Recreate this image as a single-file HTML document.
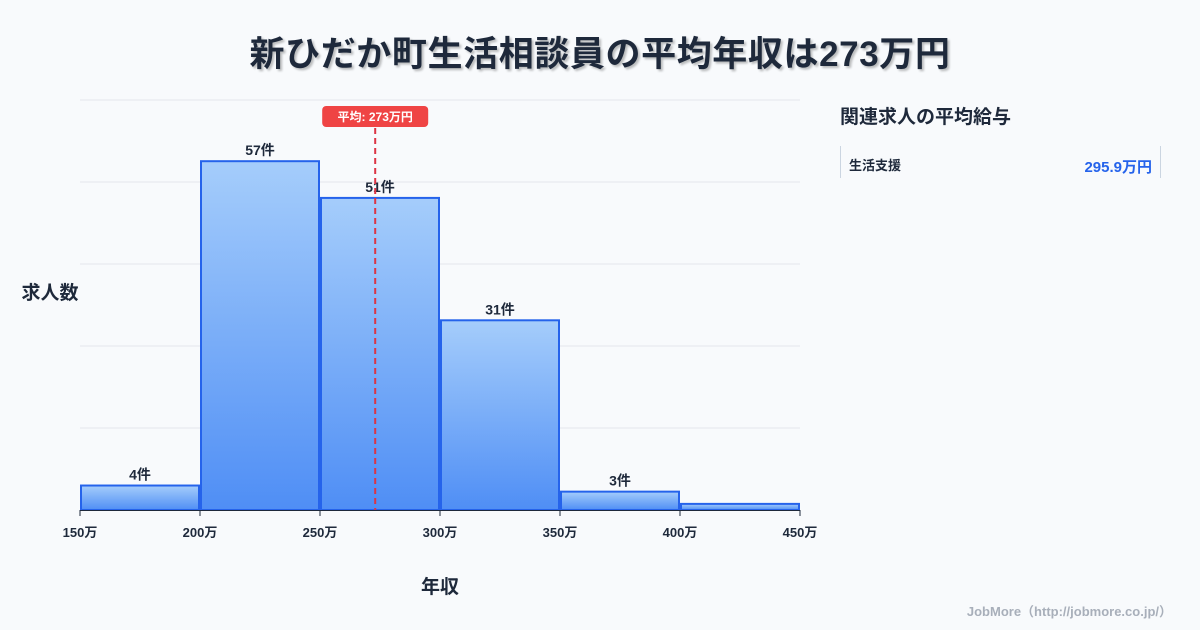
<!DOCTYPE html>
<html><head><meta charset="utf-8">
<style>
body{margin:0;background:#f8fafc;font-family:"Liberation Sans","Noto Sans CJK JP",sans-serif;}
#wrap{position:relative;width:1200px;height:630px;overflow:hidden;background:#f8fafc;}
</style></head>
<body>
<div id="wrap">
<svg id="chart" width="1200" height="630" xmlns="http://www.w3.org/2000/svg">
<defs>
<linearGradient id="g" x1="0" y1="0" x2="0" y2="1">
<stop offset="0" stop-color="#a5cdfb"/><stop offset="1" stop-color="#4f8ef5"/>
</linearGradient>
</defs>
<text x="600" y="66" text-anchor="middle" font-size="35" letter-spacing="0.6" font-weight="700" fill="#1e293b" style="text-shadow:2px 2px 2px rgba(0,0,0,0.25)">新ひだか町生活相談員の平均年収は273万円</text>
<g id="grid"></g>
<g id="bars"></g>
<g id="xaxis"></g>
<text x="50" y="299" text-anchor="middle" font-size="19" font-weight="700" fill="#1e293b">求人数</text>
<text x="440" y="593" text-anchor="middle" font-size="19" font-weight="700" fill="#1e293b">年収</text>
<g id="mean"></g>
<text x="840" y="123" font-size="19" font-weight="700" fill="#1e293b">関連求人の平均給与</text>
<line x1="840.5" y1="146" x2="840.5" y2="178" stroke="#cbd5e1"/>
<line x1="1160.5" y1="146" x2="1160.5" y2="178" stroke="#cbd5e1"/>
<text x="849" y="170" font-size="13" font-weight="700" fill="#1e293b">生活支援</text>
<text x="1152" y="172" text-anchor="end" font-size="15" font-weight="700" fill="#2563eb">295.9万円</text>
<text x="1172" y="616" text-anchor="end" font-size="13" font-weight="700" fill="#a8afba">JobMore（http://jobmore.co.jp/）</text>
</svg>
</div>
<script>
const binStarts=[150,200,250,300,350,400];
const counts=[4,57,51,31,3,1];
const showLabel=[true,true,true,true,true,false];
const xTicks=[150,200,250,300,350,400,450];
const meanValue=273;
const meanLabel=['平均: 273万円'];
const NS='http://www.w3.org/2000/svg';
const X0=80,X1=800,XMIN=150,XMAX=450,BASE=510,TOP=100,YMAX=67;
const binW=50;
function xs(v){return X0+(v-XMIN)/(XMAX-XMIN)*(X1-X0);}
function ys(v){return BASE-v/YMAX*(BASE-TOP);}
function mk(tag,attrs,parent){const e=document.createElementNS(NS,tag);for(const k in attrs)e.setAttribute(k,attrs[k]);parent.appendChild(e);return e;}
const grid=document.getElementById('grid');
for(let i=0;i<=5;i++){const y=TOP+i*(BASE-TOP)/5;
const l=mk('line',{x1:X0,x2:X1,y1:y,y2:y,stroke:'#e5e7eb','stroke-width':1},grid);

}
const bars=document.getElementById('bars');
binStarts.forEach((s,i)=>{
const xa=xs(s)+1,xb=xs(s+binW)-1,y=ys(counts[i]);
const r=mk('rect',{x:xa,y:y,width:xb-xa,height:BASE-y,fill:'url(#g)',stroke:'#2563eb','stroke-width':2},bars);


if(showLabel[i]){const t=mk('text',{x:(xa+xb)/2,y:y-6,'text-anchor':'middle','font-size':14,'font-weight':700,fill:'#1e293b'},bars);
t.textContent=counts[i]+'件';

}
});
const xa=document.getElementById('xaxis');
const ax=mk('line',{x1:X0,x2:X1,y1:BASE+0.5,y2:BASE+0.5,stroke:'#1e293b','stroke-width':1},xa);


xTicks.forEach(v=>{const x=xs(v);
const tk=mk('line',{x1:x,x2:x,y1:BASE,y2:BASE+6,stroke:'#1e293b'},xa);


const t=mk('text',{x:x,y:BASE+27,'text-anchor':'middle','font-size':13,'font-weight':700,fill:'#1e293b'},xa);
t.textContent=v+'万';

});
const mg=document.getElementById('mean');
const mx=xs(meanValue);
const ml=mk('line',{x1:mx,x2:mx,y1:128,y2:BASE,stroke:'#dc3545','stroke-width':2,'stroke-dasharray':'6,4'},mg);


const mr=mk('rect',{x:mx-53,y:106,width:106,height:21,rx:4,fill:'#ef4444'},mg);


const mt=mk('text',{x:mx,y:121,'text-anchor':'middle','font-size':12,'font-weight':700,fill:'#fff'},mg);
mt.textContent=meanLabel[0];


</script>
</body></html>
